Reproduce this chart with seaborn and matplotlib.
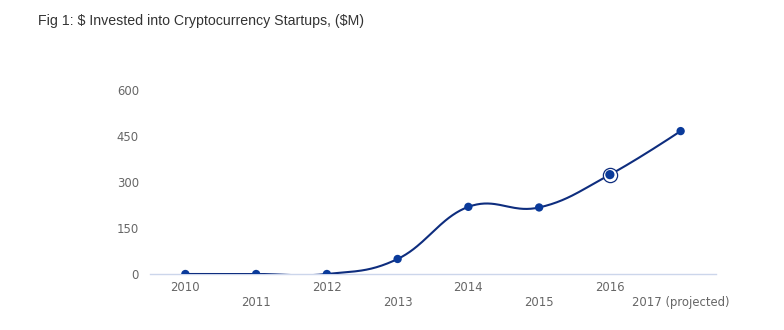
import numpy as np
import pandas as pd
import matplotlib
matplotlib.use("Agg")
import matplotlib.pyplot as plt
import seaborn as sns

# Data
years = ["2010", "2011", "2012", "2013", "2014", "2015", "2016", "2017 (projected)"]
invested = [0, 0, 0, 49, 219, 217, 324, 466]
highlight_year = "2016"
y_ticks = [0, 150, 300, 450, 600]
title = r"Fig 1: \$ Invested into Cryptocurrency Startups, (\$M)"

LINE = "#0e2d7e"
DOT = "#0a3a9a"
AXIS = "#ccd6eb"
LABEL = "#666666"


def spline_path(xs, ys, smoothing=1.5, samples=40):
    """Smooth curve through the points using bezier control points."""
    n = len(xs)
    denom = smoothing + 1
    lcx = list(xs); lcy = list(ys); rcx = list(xs); rcy = list(ys)
    for i in range(1, n - 1):
        x, y = xs[i], ys[i]
        px, py = xs[i - 1], ys[i - 1]
        nx, ny = xs[i + 1], ys[i + 1]
        lx = (smoothing * x + px) / denom
        ly = (smoothing * y + py) / denom
        rx = (smoothing * x + nx) / denom
        ry = (smoothing * y + ny) / denom
        if rx != lx:
            corr = (ry - ly) * (rx - x) / (rx - lx) + y - ry
            ly += corr
            ry += corr
        lcx[i], lcy[i], rcx[i], rcy[i] = lx, ly, rx, ry
    out_x, out_y = [xs[0]], [ys[0]]
    t = np.linspace(0, 1, samples)[1:]
    for i in range(1, n):
        p0 = np.array([xs[i - 1], ys[i - 1]])
        p1 = np.array([rcx[i - 1], rcy[i - 1]])
        p2 = np.array([lcx[i], lcy[i]])
        p3 = np.array([xs[i], ys[i]])
        b = ((1 - t) ** 3)[:, None] * p0 + (3 * (1 - t) ** 2 * t)[:, None] * p1 \
            + (3 * (1 - t) * t ** 2)[:, None] * p2 + (t ** 3)[:, None] * p3
        out_x.extend(b[:, 0]); out_y.extend(b[:, 1])
    return np.array(out_x), np.array(out_y)


sns.set_theme(style="white")
plt.rcParams["font.family"] = ["DejaVu Sans"]

fig = plt.figure(figsize=(7.84, 3.30), dpi=100)
ax = fig.add_axes([150 / 784, 1 - 274 / 330, 566 / 784, 184 / 330])

pos = np.arange(len(years))
df = pd.DataFrame({"pos": pos, "year": years, "value": invested})

cx, cy = spline_path(pos.astype(float), np.array(invested, dtype=float))
curve = pd.DataFrame({"x": cx, "y": cy})
sns.lineplot(data=curve, x="x", y="y", sort=False, estimator=None,
             color=LINE, linewidth=1.5, ax=ax, zorder=3)

sns.scatterplot(data=df[df["year"] != highlight_year], x="pos", y="value",
                color=DOT, s=36, edgecolor="none", ax=ax, zorder=4)

hl = df[df["year"] == highlight_year]
ax.scatter(hl["pos"], hl["value"], s=105, facecolor="white",
           edgecolor=LINE, linewidth=0.9, zorder=4, clip_on=False)
ax.scatter(hl["pos"], hl["value"], s=44, color=DOT, edgecolor="none",
           zorder=5, clip_on=False)

ax.set_xlim(-0.5, len(years) - 0.5)
ax.set_ylim(0, 600)
ax.set_yticks(y_ticks)
ax.set_yticklabels([str(v) for v in y_ticks])
ax.set_xticks(pos)
ax.set_xticklabels([y if i % 2 == 0 else "\n" + y for i, y in enumerate(years)])
for lab in ax.get_xticklabels():
    lab.set_linespacing(1.25)

ax.tick_params(axis="both", length=0, labelsize=8.4, labelcolor=LABEL)
ax.tick_params(axis="x", pad=5)
ax.tick_params(axis="y", pad=8)
ax.set_xlabel("")
ax.set_ylabel("")

for side in ["top", "right", "left"]:
    ax.spines[side].set_visible(False)
ax.spines["bottom"].set_color(AXIS)
ax.spines["bottom"].set_linewidth(1)
ax.grid(False)

fig.text(38 / 784, 1 - 21 / 330, title, ha="left", va="center",
         fontsize=10.15, color="#333333", family=["Liberation Sans", "DejaVu Sans"])

fig.savefig("out.png", dpi=100, facecolor="white")
